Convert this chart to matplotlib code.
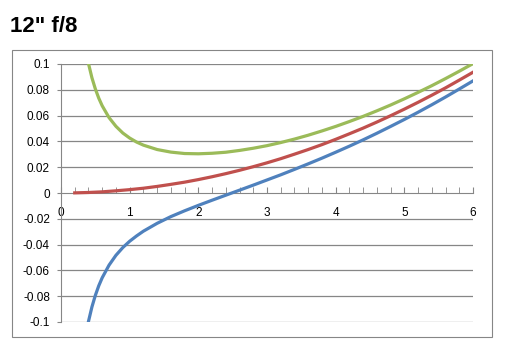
import matplotlib
matplotlib.use('Agg')
import matplotlib.pyplot as plt
from matplotlib.patches import Rectangle
from matplotlib.ticker import MultipleLocator

# values
x_red = [0.2, 0.4, 0.6, 0.8, 1.0, 1.2, 1.4, 1.6, 1.8, 2.0, 2.2, 2.4, 2.6, 2.8, 3.0,
         3.2, 3.4, 3.6, 3.8, 4.0, 4.2, 4.4, 4.6, 4.8, 5.0, 5.2, 5.4, 5.6, 5.8, 6.0]
red = [0.0001, 0.0004, 0.0009, 0.0017, 0.0026, 0.0037, 0.0051, 0.0067, 0.0084, 0.0104,
       0.0126, 0.0150, 0.0176, 0.0204, 0.0234, 0.0266, 0.0301, 0.0337, 0.0375, 0.0416,
       0.0459, 0.0503, 0.0550, 0.0599, 0.0650, 0.0703, 0.0758, 0.0815, 0.0875, 0.0936]

x_side = [0.4, 0.45, 0.5, 0.55, 0.6, 0.7, 0.8, 0.9, 1.0, 1.1, 1.2, 1.4, 1.6, 1.8, 2.0,
          2.2, 2.4, 2.6, 2.8, 3.0, 3.2, 3.4, 3.6, 3.8, 4.0, 4.2, 4.4, 4.6, 4.8, 5.0,
          5.2, 5.4, 5.6, 5.8, 6.0]
blue = [-0.0996, -0.0884, -0.0794, -0.0719, -0.0657, -0.0559, -0.0483, -0.0423, -0.0374,
        -0.0333, -0.0296, -0.0235, -0.0183, -0.0138, -0.0096, -0.0056, -0.0017, 0.0022,
        0.0061, 0.0101, 0.0141, 0.0183, 0.0226, 0.0270, 0.0316, 0.0363, 0.0412, 0.0463,
        0.0516, 0.0570, 0.0626, 0.0684, 0.0744, 0.0806, 0.0869]
green = [0.1004, 0.0894, 0.0807, 0.0735, 0.0676, 0.0584, 0.0517, 0.0465, 0.0426, 0.0395,
         0.0371, 0.0337, 0.0317, 0.0306, 0.0304, 0.0308, 0.0316, 0.0330, 0.0347, 0.0367,
         0.0391, 0.0418, 0.0448, 0.0481, 0.0516, 0.0554, 0.0594, 0.0637, 0.0682, 0.0730,
         0.0780, 0.0832, 0.0887, 0.0944, 0.1003]

y_ticks = [-0.1, -0.08, -0.06, -0.04, -0.02, 0, 0.02, 0.04, 0.06, 0.08, 0.1]
y_labels = ['-0.1', '-0.08', '-0.06', '-0.04', '-0.02', '0',
            '0.02', '0.04', '0.06', '0.08', '0.1']

plt.rcParams['font.family'] = ['Liberation Sans', 'DejaVu Sans']

fig = plt.figure(figsize=(5.11, 3.58), dpi=100)
fig.patch.set_facecolor('white')

# outer chart frame
fig.patches.append(Rectangle((12 / 511, 1 - 337 / 358), 480 / 511, 287 / 358,
                             transform=fig.transFigure, fill=False,
                             edgecolor='#868686', linewidth=0.8))

fig.text(10 / 511, 1 - 26 / 358, '12" f/8', fontsize=16, fontweight='bold',
         ha='left', va='center')

ax = fig.add_axes([61 / 511, 1 - 322 / 358, 412 / 511, 258 / 358])

for yv in y_ticks:
    if yv != 0:
        ax.axhline(yv, color='#868686', linewidth=0.9, zorder=1)

ax.plot(x_side, blue, color='#4F81BD', linewidth=2.3, zorder=3, solid_joinstyle='round')
ax.plot(x_red, red, color='#C0504D', linewidth=2.3, zorder=3, solid_joinstyle='round')
ax.plot(x_side, green, color='#9BBB59', linewidth=2.3, zorder=3, solid_joinstyle='round')

ax.set_xlim(0, 6)
ax.set_ylim(-0.1, 0.1)

for s in ['top', 'right']:
    ax.spines[s].set_visible(False)
ax.spines['left'].set_color('#868686')
ax.spines['bottom'].set_color('#868686')
ax.spines['bottom'].set_position(('data', 0))

ax.xaxis.set_major_locator(MultipleLocator(1))
ax.xaxis.set_minor_locator(MultipleLocator(0.2))
ax.set_yticks(y_ticks)
ax.set_yticklabels(y_labels)
ax.tick_params(axis='x', which='both', direction='in', length=4, color='#868686',
               labelsize=8.5, pad=10)
ax.tick_params(axis='y', direction='out', length=3, color='#868686',
               labelsize=8.5, pad=5)

fig.savefig('out.png', dpi=100)
